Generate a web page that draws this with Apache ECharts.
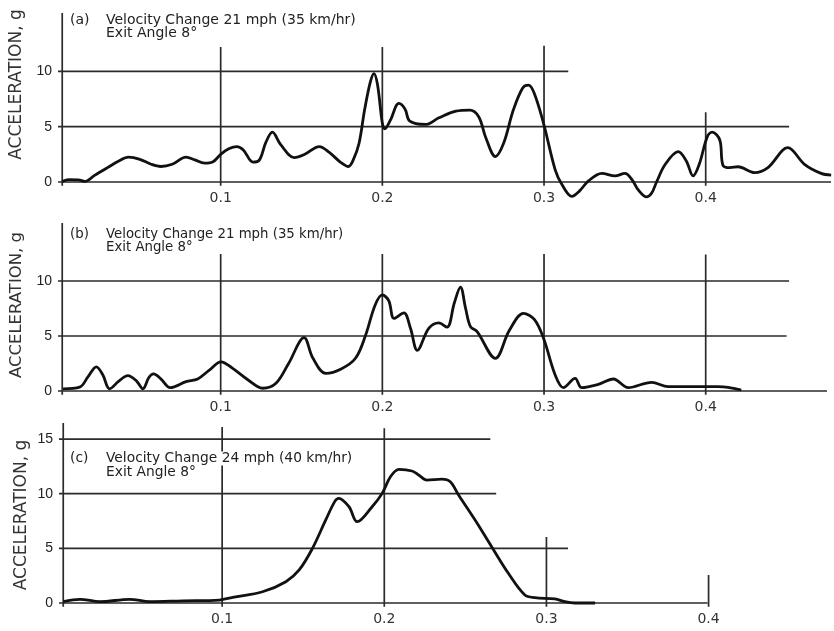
<!DOCTYPE html>
<html>
<head>
<meta charset="utf-8">
<script src="https://cdn.jsdelivr.net/npm/echarts@6/dist/echarts.min.js"></script>
<style>
html,body{margin:0;padding:0;background:#fff;}
#chart{width:834px;height:631px;}
</style>
</head>
<body>
<div id="chart"></div>
<script>
// ---------- Data (time in s, acceleration in g) ----------
const aTime = [0.002,0.006,0.012,0.016,0.022,0.03,0.037,0.043,0.05,0.057,0.063,0.07,0.0786,0.084,0.09,0.095,0.1,0.105,0.11,0.114,0.12,0.124,0.128,0.132,0.137,0.1455,0.152,0.161,0.167,0.174,0.179,0.182,0.1856,0.189,0.1925,0.1948,0.197,0.2,0.2015,0.205,0.2102,0.214,0.217,0.2267,0.235,0.2455,0.254,0.2596,0.264,0.2699,0.275,0.281,0.2868,0.2904,0.294,0.2997,0.3069,0.311,0.3172,0.322,0.3275,0.3357,0.3439,0.35,0.3545,0.3583,0.3634,0.3666,0.3696,0.375,0.383,0.388,0.3922,0.396,0.401,0.404,0.4087,0.4107,0.415,0.42,0.4303,0.4385,0.4508,0.4611,0.4714,0.4776];
const aAccel = [0.05,0.22,0.2,0.05,0.6,1.3,1.9,2.25,2.05,1.6,1.4,1.6,2.25,2.0,1.7,1.8,2.5,3.0,3.2,2.9,1.8,2.0,3.6,4.5,3.4,2.2,2.5,3.2,2.7,1.8,1.4,2.0,3.5,6.5,9.0,9.8,8.8,5.3,4.8,5.6,7.1,6.6,5.5,5.2,5.8,6.4,6.5,5.9,4.0,2.3,3.5,6.5,8.5,8.75,8.0,5.3,1.1,-0.2,-1.3,-0.8,0.1,0.78,0.55,0.78,0.2,-0.72,-1.35,-1.0,0.0,1.6,2.74,1.9,0.55,1.6,4.1,4.5,3.8,1.5,1.3,1.38,0.84,1.3,3.1,1.6,0.78,0.63];

const bTime = [0.0025,0.0128,0.018,0.0231,0.027,0.0313,0.037,0.0426,0.048,0.0519,0.0555,0.0585,0.063,0.0688,0.0786,0.0858,0.093,0.1002,0.107,0.117,0.1259,0.1342,0.142,0.1516,0.157,0.165,0.1745,0.1835,0.1897,0.1955,0.2,0.204,0.2072,0.2133,0.2174,0.2216,0.2287,0.2349,0.24,0.2445,0.2483,0.2515,0.2545,0.2586,0.2699,0.2785,0.2873,0.294,0.2997,0.3069,0.312,0.3192,0.3233,0.3336,0.3429,0.3521,0.3665,0.3768,0.4076,0.4138,0.422];
const bAccel = [0.2,0.35,1.3,2.2,1.5,0.2,0.9,1.4,0.9,0.2,1.2,1.55,1.1,0.3,0.85,1.1,1.9,2.65,2.1,1.0,0.25,0.7,2.5,4.85,3.0,1.6,2.0,3.0,5.1,7.8,8.73,8.2,6.6,7.1,5.7,3.7,5.7,6.2,5.8,8.0,9.45,7.5,5.85,5.4,2.97,5.5,7.06,6.5,4.79,1.45,0.3,1.15,0.3,0.6,1.09,0.3,0.79,0.39,0.39,0.33,0.09];

const cTime = [0.002,0.0123,0.0246,0.043,0.0553,0.0758,0.0983,0.1065,0.1249,0.1393,0.1475,0.1557,0.1639,0.1695,0.172,0.1782,0.1833,0.1925,0.1987,0.2038,0.209,0.2171,0.2212,0.2263,0.2355,0.2407,0.2458,0.256,0.2662,0.2765,0.2867,0.2929,0.3052,0.3113,0.3175,0.33];
const cAccel = [0.12,0.34,0.12,0.34,0.12,0.2,0.27,0.52,1.03,1.95,3.02,5.0,7.6,9.3,9.58,8.81,7.44,8.81,10.03,11.55,12.23,12.08,11.71,11.25,11.34,11.1,9.88,7.59,5.15,2.72,0.73,0.49,0.37,0.12,0.0,0.0];

// tick labels
const xTickLabels = ['0.1','0.2','0.3','0.4'];
const yTickLabelsAB = ['0','5','10'];
const yTickLabelsC = ['0','5','10','15'];

// reference lines drawn on the plot: [g value, x end] and [x value, g top]
const aHLines = [[0,0.4775],[5,0.4516],[10,0.315]];
const aVLines = [[0.002,15.27],[0.1,12.2],[0.2,12.2],[0.3,12.3],[0.4,6.3]];
const bHLines = [[0,0.475],[5,0.45],[10,0.4516]];
const bVLines = [[0.002,15.27],[0.1,12.45],[0.2,12.45],[0.3,12.45],[0.4,12.4]];
const cHLines = [[0,0.3993],[5,0.3133],[10,0.269],[15,0.2654]];
const cVLines = [[0.002,16.47],[0.1,16.1],[0.2,16.0],[0.3,6.04],[0.4,2.56]];

const titlesMain = ['Velocity Change 21 mph (35 km/hr)','Velocity Change 21 mph (35 km/hr)','Velocity Change 24 mph (40 km/hr)'];
const titlesSub = ['Exit Angle 8°','Exit Angle 8°','Exit Angle 8°'];
const panelTags = ['(a)','(b)','(c)'];
const yName = 'ACCELERATION, g';

// ---------- Build ----------
function zip(xs, ys){ return xs.map((x,i)=>[x, ys[i]]); }
function refLines(h, v){
  const out = [];
  h.forEach(([g, xe]) => { out.push([-0.004, g],[xe, g],['-','-']); });
  v.forEach(([x, gt]) => { out.push([x, -0.35],[x, gt],['-','-']); });
  return out;
}

const grids = [
  {left:59, top:13, width:774, height:169},
  {left:59, top:223, width:774, height:168},
  {left:60, top:423, width:774, height:180}
];
const xMax = [0.4775, 0.4775, 0.4755];
const yMax = [15.27, 15.27, 16.47];
const yLabs = [yTickLabelsAB, yTickLabelsAB, yTickLabelsC];
const titleSizes = [14, 13.3, 13.8];
const titleLH = [12.5, 13.5, 14];
const titleTops = [14.5, 227.5, 451.5];
const namePos = [[17, 84.5, 17], [17, 305, 16.5], [22, 515, 17]]; // x, y centre, font size

const xAxes = grids.map((g,i)=>({
  gridIndex:i, type:'value', min:0, max:xMax[i], interval:0.1,
  axisLine:{show:false}, axisTick:{show:false}, splitLine:{show:false},
  axisLabel:{
    margin:9, fontSize:14, color:'#333', fontFamily:'DejaVu Sans',
    formatter: v => { const s = v.toFixed(1); return xTickLabels.indexOf(s) >= 0 ? s : ''; }
  }
}));
const yAxes = grids.map((g,i)=>({
  gridIndex:i, type:'value', min:0, max:yMax[i], interval:5,
  axisLine:{show:false}, axisTick:{show:false}, splitLine:{show:false},
  axisLabel:{
    margin:7, fontSize:14, color:'#222', fontFamily:'Liberation Sans',
    formatter: v => { const s = String(Math.round(v)); return yLabs[i].indexOf(s) >= 0 ? s : ''; }
  }
}));

const curves = [zip(aTime,aAccel), zip(bTime,bAccel), zip(cTime,cAccel)];
const lines = [refLines(aHLines,aVLines), refLines(bHLines,bVLines), refLines(cHLines,cVLines)];

const series = [];
for (let i=0;i<3;i++){
  series.push({
    type:'line', xAxisIndex:i, yAxisIndex:i, data:lines[i], symbol:'none',
    connectNulls:false, clip:false, silent:true, z:2,
    lineStyle:{color:'#2b2b2b', width:1.7}
  });
  series.push({
    type:'line', xAxisIndex:i, yAxisIndex:i, data:curves[i], symbol:'none',
    smooth:0.35, clip:false, silent:true, z:3,
    lineStyle:{color:'#111', width:2.8}
  });
}

const titles = [];
for (let i=0;i<3;i++){
  const ts = {fontSize:titleSizes[i], fontWeight:'normal', color:'#222', fontFamily:'DejaVu Sans', lineHeight:titleLH[i]};
  titles.push({text:panelTags[i], left:70, top:titleTops[i], padding:0, textStyle:ts});
  titles.push({
    text:'{m|'+titlesMain[i]+'}\n{s|'+titlesSub[i]+'}', left:106, top:titleTops[i], padding:0,
    textStyle:Object.assign({}, ts, {rich:{
      m:{fontSize:titleSizes[i], color:'#222', fontFamily:'DejaVu Sans', lineHeight:titleLH[i], backgroundColor:'#fff'},
      s:{fontSize:titleSizes[i], color:'#222', fontFamily:'DejaVu Sans', lineHeight:titleLH[i]}
    }})
  });
}

const graphics = namePos.map(([x,y,fs]) => ({
  type:'text', x:x, y:y, rotation:Math.PI/2, silent:true,
  style:{text:yName, fontSize:fs, fontFamily:'DejaVu Sans', fill:'#333', align:'center', verticalAlign:'middle'}
}));

const chart = echarts.init(document.getElementById('chart'), null, {renderer:'canvas'});
chart.setOption({
  animation:false,
  backgroundColor:'#fff',
  title:titles,
  graphic:graphics,
  grid:grids,
  xAxis:xAxes,
  yAxis:yAxes,
  series:series
});
</script>
</body>
</html>
